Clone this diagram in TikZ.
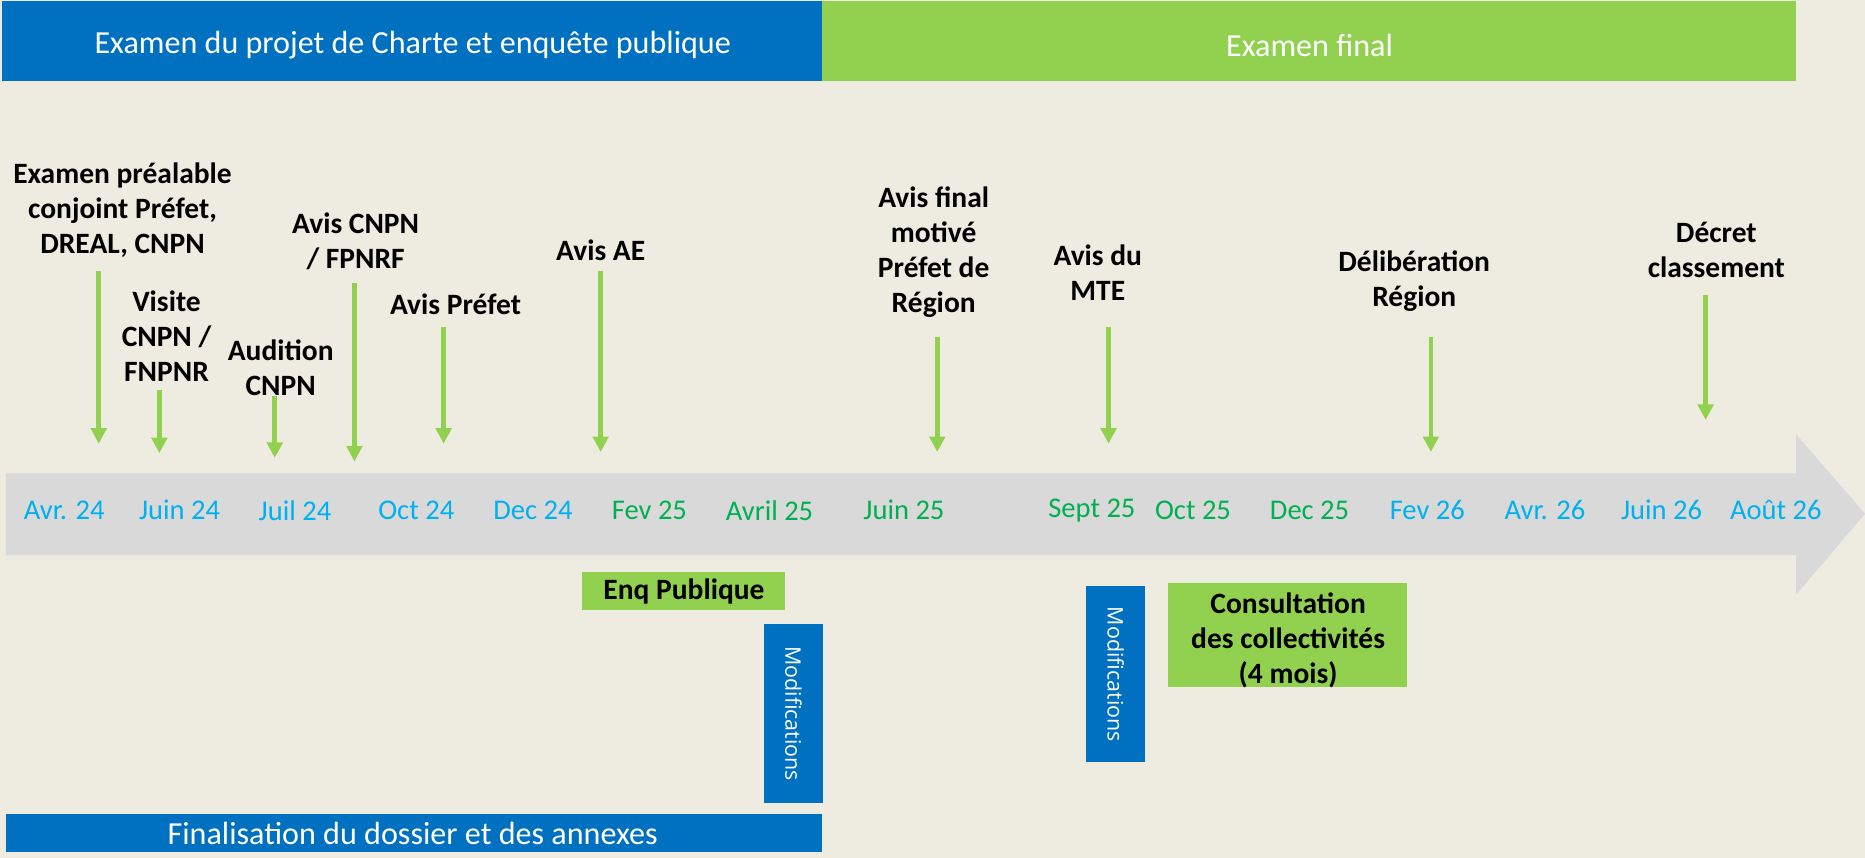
\documentclass[tikz,border=0pt]{standalone}
\usepackage{fontspec}
\setmainfont{Carlito}
\newfontfamily\modiffont{Open Sans}
\usepackage{tikz}
\usetikzlibrary{arrows.meta}
\definecolor{fond}{HTML}{EEECE1}
\definecolor{bleu}{HTML}{0070C0}
\definecolor{vert}{HTML}{92D050}
\definecolor{ciel}{HTML}{00B0F0}
\definecolor{vertfonce}{HTML}{00B050}
\definecolor{gris}{HTML}{D9D9D9}
\tikzstyle{bandeau} = [inner sep=0pt, text=white, font=\fontsize{13.5}{16}\selectfont]
\tikzstyle{etape} = [align=center, inner sep=0pt, font=\bfseries\fontsize{12.4}{14.7}\selectfont]
\tikzstyle{mois} = [inner sep=0pt, font=\fontsize{12}{14}\selectfont]
\tikzstyle{modif} = [rotate=-90, inner sep=0pt, text=white, font=\modiffont\fontsize{9}{11}\selectfont]
\tikzstyle{fleche} = [draw=vert, line width=2pt, -{Triangle[width=6.5pt,length=6.5pt]}]

\begin{document}
\begin{tikzpicture}[x=0.5pt,y=-0.5pt]
	\useasboundingbox (0,0) rectangle (1568,721);
	\fill[fond] (0,0) rectangle (1568,721);
	\fill[bleu] (2,1) rectangle (691,68);
	\fill[vert] (691,1) rectangle (1510,68);
	\node (phase1) at (347,38) [bandeau] {Examen du projet de Charte et enquête publique};
	\node (phase2) at (1101,38) [bandeau] {Examen final};
	\fill[gris] (5,398) -- (1510,398) -- (1510,365) -- (1568,432) -- (1510,500) -- (1510,467) -- (5,467) -- cycle;
	\node (m1) at (54,429) [mois, text=ciel] {Avr. 24};
	\node (m2) at (151,429) [mois, text=ciel] {Juin 24};
	\node (m3) at (248,429) [mois, text=ciel] {Juil 24};
	\node (m4) at (350,429) [mois, text=ciel] {Oct 24};
	\node (m5) at (448,429) [mois, text=ciel] {Dec 24};
	\node (m6) at (546,429) [mois, text=vertfonce] {Fev 25};
	\node (m7) at (647,429) [mois, text=vertfonce] {Avril 25};
	\node (m8) at (760,429) [mois, text=vertfonce] {Juin 25};
	\node (m9) at (918,429) [mois, text=vertfonce] {Sept 25};
	\node (m10) at (1003,429) [mois, text=vertfonce] {Oct 25};
	\node (m11) at (1101,429) [mois, text=vertfonce] {Dec 25};
	\node (m12) at (1200,429) [mois, text=ciel] {Fev 26};
	\node (m13) at (1299,429) [mois, text=ciel] {Avr. 26};
	\node (m14) at (1397,429) [mois, text=ciel] {Juin 26};
	\node (m15) at (1493,429) [mois, text=ciel] {Août 26};
	\node (prealable) at (103,177) [etape] {Examen préalable\\conjoint Préfet,\\DREAL, CNPN};
	\node (visite) at (140,283) [etape] {Visite\\CNPN /\\FNPNR};
	\node (audition) at (236,309) [etape] {Audition\\CNPN};
	\node (aviscnpn) at (299,203) [etape] {Avis CNPN\\/ FPNRF};
	\node (avisprefet) at (383,256) [etape] {Avis Préfet};
	\node (avisae) at (505,210) [etape] {Avis AE};
	\node (avisfinal) at (785,212) [etape] {Avis final\\motivé\\Préfet de\\Région};
	\node (avismte) at (923,229) [etape] {Avis du\\MTE};
	\node (deliberation) at (1189,236) [etape] {Délibération\\Région};
	\node (decret) at (1443,210) [etape] {Décret\\classement};
	\coordinate (a1) at (83,228); \coordinate (b1) at (83,373);
	\coordinate (a2) at (134,328); \coordinate (b2) at (134,381);
	\coordinate (a3) at (231,333); \coordinate (b3) at (231,385);
	\coordinate (a4) at (298,238); \coordinate (b4) at (298,388);
	\coordinate (a5) at (373,275); \coordinate (b5) at (373,373);
	\coordinate (a6) at (505,228); \coordinate (b6) at (505,380);
	\coordinate (a7) at (788,283); \coordinate (b7) at (788,380);
	\coordinate (a8) at (932,275); \coordinate (b8) at (932,373);
	\coordinate (a9) at (1203,283); \coordinate (b9) at (1203,380);
	\coordinate (a10) at (1434,248); \coordinate (b10) at (1434,353);
	\draw[fleche] (a1) -- (b1);
	\draw[fleche] (a2) -- (b2);
	\draw[fleche] (a3) -- (b3);
	\draw[fleche] (a4) -- (b4);
	\draw[fleche] (a5) -- (b5);
	\draw[fleche] (a6) -- (b6);
	\draw[fleche] (a7) -- (b7);
	\draw[fleche] (a8) -- (b8);
	\draw[fleche] (a9) -- (b9);
	\draw[fleche] (a10) -- (b10);
	\fill[vert] (489,481) rectangle (660,513);
	\node (enquete) at (575,497) [etape] {Enq Publique};
	\fill[bleu] (642,525) rectangle (692,675);
	\node (modif1) at (667,600) [modif] {Modifications};
	\fill[bleu] (5,684) rectangle (691,716);
	\node (finalisation) at (347,701) [bandeau] {Finalisation du dossier et des annexes};
	\fill[bleu] (913,493) rectangle (963,641);
	\node (modif2) at (938,567) [modif] {Modifications};
	\fill[vert] (982,490) rectangle (1183,578);
	\node (consultation) at (1083,538) [etape] {Consultation\\des collectivités\\(4 mois)};
\end{tikzpicture}
\end{document}
